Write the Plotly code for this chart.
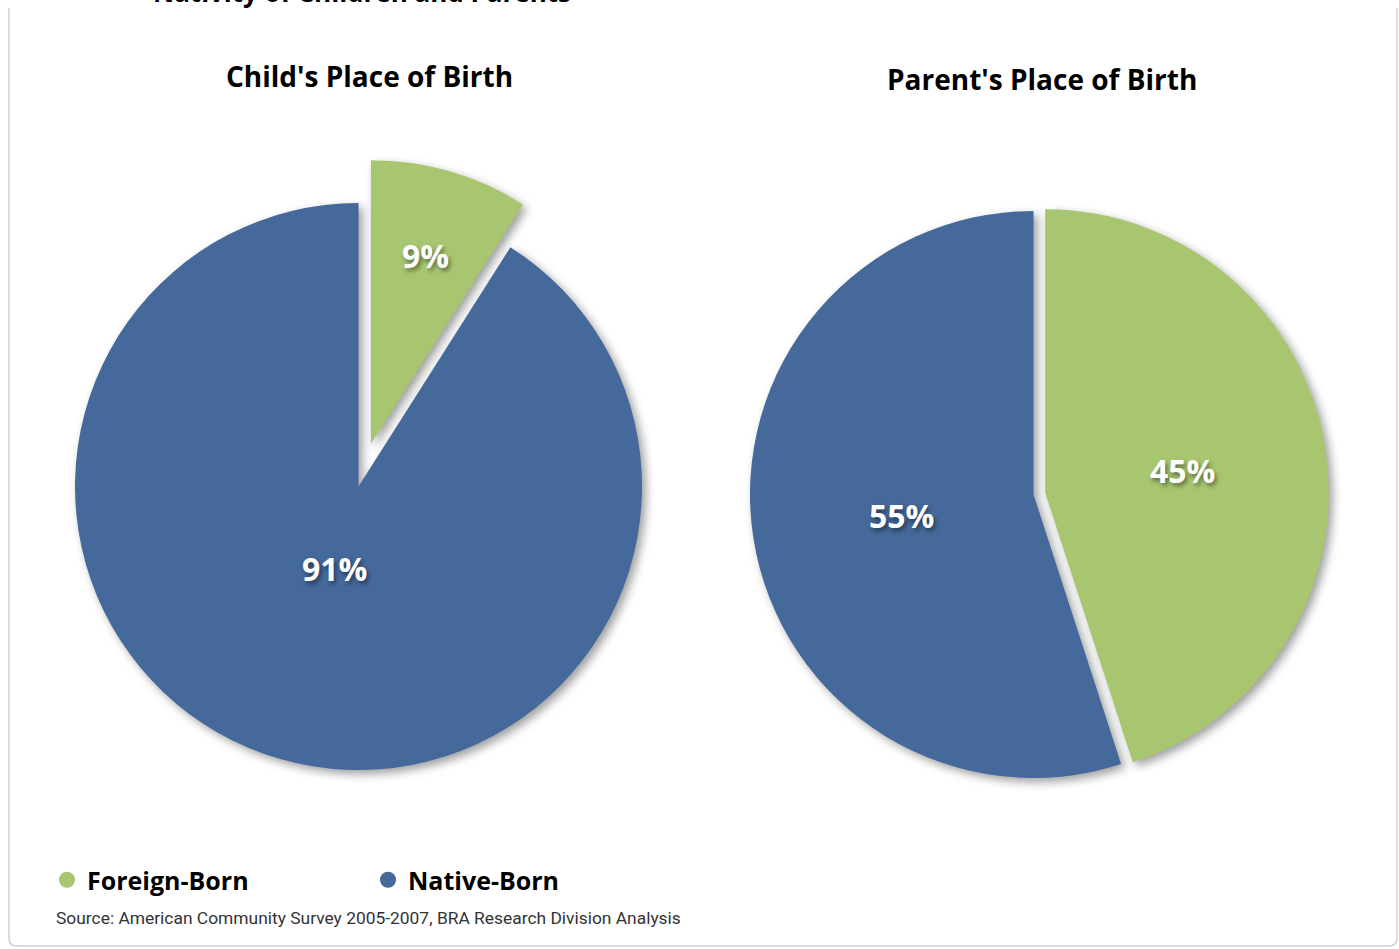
import math
import plotly.graph_objects as go

# Data
categories = ["Foreign-Born", "Native-Born"]
child_values = [9, 91]
parent_values = [45, 55]
colors = ["#A8C670", "#44699A"]

W, H = 1399, 949

# Pie placement (pixel centres, radius, pull of the foreign-born slice,
# radial position of each value label as a fraction of the radius)
PIES = [
    dict(values=child_values, cx=358.5, cy=486.5, r=283.5, pull=0.157,
         label_r=[0.69, 0.30],
         title="Child's Place of Birth", tx=369, ty=76),
    dict(values=parent_values, cx=1033.5, cy=494.5, r=283.5, pull=0.042,
         label_r=[0.49, 0.47],
         title="Parent's Place of Birth", tx=1042, ty=79),
]

FONT = "Open Sans, Segoe UI, DejaVu Sans, sans-serif"
LABEL_FONT = dict(family=FONT, size=32, color="white", weight="bold",
                  shadow="2px 3px 4px rgba(0,0,0,0.45)")

fig = go.Figure()

annotations = []
for p in PIES:
    half = p["r"] * (1 + p["pull"])
    dom_x = [(p["cx"] - half) / W, (p["cx"] + half) / W]
    dom_y = [(H - p["cy"] - half) / H, (H - p["cy"] + half) / H]
    pulls = [p["pull"], 0]
    fig.add_trace(go.Pie(
        labels=categories,
        values=p["values"],
        marker=dict(colors=colors, line=dict(width=0)),
        pull=pulls,
        sort=False,
        direction="clockwise",
        rotation=0,
        domain=dict(x=dom_x, y=dom_y),
        textinfo="none",
        hoverinfo="label+value",
        showlegend=False,
    ))
    # value labels placed along each slice's middle angle
    total = sum(p["values"])
    start = 0.0
    for v, pl, fr in zip(p["values"], pulls, p["label_r"]):
        mid = 2 * math.pi * (start + v / 2) / total
        start += v
        d = (pl + fr) * p["r"]
        px = p["cx"] + d * math.sin(mid)
        py = p["cy"] - d * math.cos(mid)
        annotations.append(dict(
            text=f"{v}%", x=px / W, y=1 - py / H, xref="paper", yref="paper",
            xanchor="center", yanchor="middle", showarrow=False, font=LABEL_FONT,
        ))
    annotations.append(dict(
        text=p["title"], x=p["tx"] / W, y=1 - p["ty"] / H,
        xref="paper", yref="paper", xanchor="center", yanchor="middle",
        showarrow=False, font=dict(family=FONT, size=28, color="#000", weight="bold"),
    ))

# Legend entries drawn as circle markers
for name, col in zip(categories, colors):
    fig.add_trace(go.Scatter(
        x=[None], y=[None], mode="markers", name=name,
        marker=dict(symbol="circle", size=20, color=col),
        showlegend=True, hoverinfo="skip",
    ))

annotations.append(dict(
    text="Nativity of Children and Parents", x=362 / W, y=1 + 8 / H,
    xref="paper", yref="paper", xanchor="center", yanchor="middle",
    showarrow=False, font=dict(family=FONT, size=26, color="#000", weight="bold"),
))
annotations.append(dict(
    text="Source: American Community Survey 2005-2007, BRA Research Division Analysis",
    x=54 / W, y=1 - 918 / H, xref="paper", yref="paper",
    xanchor="left", yanchor="middle", showarrow=False,
    font=dict(family="Roboto, sans-serif", size=17.4, color="#333"),
))


def px_pt(x, y):
    return f"{x / W:.5f},{1 - y / H:.5f}"


# Frame around the chart (open at the top)
x0, x1, yt, yb, rr = 9, 1397, 8, 946, 8
frame = (f"M {px_pt(x0, yt)} L {px_pt(x0, yb - rr)} Q {px_pt(x0, yb)} {px_pt(x0 + rr, yb)} "
         f"L {px_pt(x1 - rr, yb)} Q {px_pt(x1, yb)} {px_pt(x1, yb - rr)} L {px_pt(x1, yt)}")

fig.update_layout(
    width=W, height=H,
    margin=dict(l=0, r=0, t=0, b=0),
    paper_bgcolor="white", plot_bgcolor="white",
    xaxis=dict(visible=False), yaxis=dict(visible=False),
    annotations=annotations,
    shapes=[dict(type="path", path=frame, xref="paper", yref="paper",
                 line=dict(color="#D0D0D0", width=1.5), layer="below")],
    legend=dict(
        orientation="h", x=47 / W, y=1 - 880 / H, xanchor="left", yanchor="middle",
        font=dict(family=FONT, size=25, color="#000", weight="bold"),
        itemsizing="trace", entrywidth=276, bgcolor="rgba(0,0,0,0)",
    ),
)

# Soft drop shadow under the pie slices
post = """
var st = document.createElement('style');
st.textContent = '.slice path.surface { filter: drop-shadow(4px 4px 5px rgba(0,0,0,0.38)); }';
document.head.appendChild(st);
"""
fig.write_html("out.html", post_script=post)
